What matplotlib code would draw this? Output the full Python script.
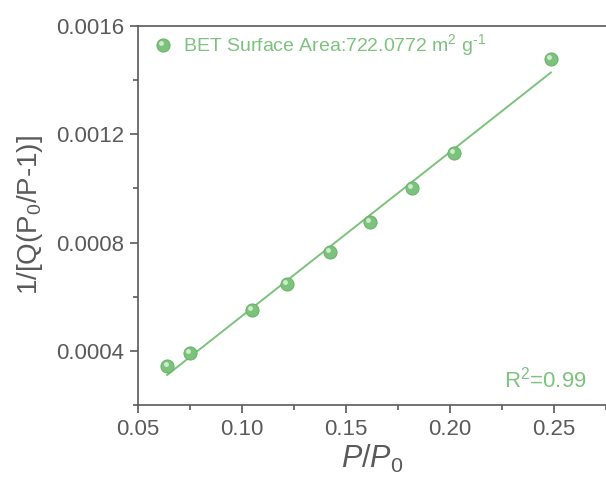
import numpy as np
import matplotlib
matplotlib.use("Agg")
import matplotlib.pyplot as plt
import matplotlib.transforms as mtransforms

# ------------------------------------------------
# DATA
# ------------------------------------------------

p_rel = [0.064, 0.075, 0.1048, 0.1216, 0.1423, 0.1615, 0.1817, 0.2019, 0.2485]
bet_y = [0.000345, 0.000393, 0.000550, 0.000646, 0.000767, 0.000877, 0.001002, 0.001132, 0.001478]

x_ticks = [0.05, 0.10, 0.15, 0.20, 0.25]
y_ticks = [0.0004, 0.0008, 0.0012, 0.0016]

GREEN      = "#7cc27c"
GREEN_DARK = "#5fae5f"
TEXT_GREEN = "#7fc27f"
GRAY       = "#5a5a5a"

plt.rcParams["font.family"] = ["Liberation Sans", "DejaVu Sans"]
plt.rcParams["mathtext.fontset"] = "custom"
plt.rcParams["mathtext.rm"] = "Liberation Sans"
plt.rcParams["mathtext.it"] = "Liberation Sans:italic"
plt.rcParams["mathtext.default"] = "regular"

# ------------------------------------------------
# PLOT
# ------------------------------------------------

fig = plt.figure(figsize=(6.06, 4.79), dpi=100)
ax = fig.add_axes([0.2277, 0.1545, 0.7723, 0.7912])

# linear fit line
k, b = np.polyfit(p_rel, bet_y, 1)
fx = np.array([p_rel[0], p_rel[-1]])
ax.plot(fx, k * fx + b, color=GREEN, lw=1.4, zorder=2)

# sphere-like markers: base + highlight
ax.plot(p_rel, bet_y, "o", ms=9.5, color=GREEN, mec=GREEN_DARK, mew=0.6, zorder=3)
hl = mtransforms.offset_copy(ax.transData, fig=fig, x=-1.5, y=2.0, units="dots")
ax.plot(p_rel, bet_y, "o", ms=3.5, color="#d8f0d8", mew=0, alpha=0.9,
        transform=hl, zorder=4)

# legend-like entry
ax.plot([0.062], [0.001531], "o", ms=9.5, color=GREEN, mec=GREEN_DARK, mew=0.6,
        clip_on=False, zorder=3)
ax.plot([0.062], [0.001531], "o", ms=3.5, color="#d8f0d8", mew=0, alpha=0.9,
        transform=hl, clip_on=False, zorder=4)
ax.text(0.0715, 0.001531, "BET Surface Area:722.0772 m$^{2}$ g$^{\u2010 1}$",
        color=TEXT_GREEN, fontsize=14, va="center", ha="left")

ax.text(0.2655, 0.000265, r"R$^{2}$=0.99", color=TEXT_GREEN, fontsize=16,
        ha="right", va="baseline")

ax.set_xlim(0.05, 0.275)
ax.set_ylim(0.0002, 0.0016)
ax.set_xticks(x_ticks)
ax.set_xticklabels([f"{t:.2f}" for t in x_ticks])
ax.set_yticks(y_ticks)
ax.set_yticklabels([f"{t:.4f}" for t in y_ticks])
ax.set_xticks([0.075, 0.125, 0.175, 0.225, 0.275], minor=True)
ax.set_yticks([0.0002, 0.0006, 0.0010, 0.0014], minor=True)

ax.spines["right"].set_visible(False)
for s in ["left", "bottom", "top"]:
    ax.spines[s].set_color(GRAY)
    ax.spines[s].set_linewidth(1.2)

ax.tick_params(which="major", direction="out", length=6, width=1.2,
               color=GRAY, labelcolor=GRAY, labelsize=16, pad=4)
ax.tick_params(which="minor", direction="out", length=3.5, width=1.2, color=GRAY)

ax.set_xlabel(r"$\mathit{P/P}_{\mathit{0}}$", fontsize=22, color=GRAY, labelpad=2)
ax.set_ylabel(r"1/[Q(P$_0$/P-1)]", fontsize=20, color=GRAY, labelpad=8)

fig.savefig("out.png", dpi=100)
print("Saved: out.png")
